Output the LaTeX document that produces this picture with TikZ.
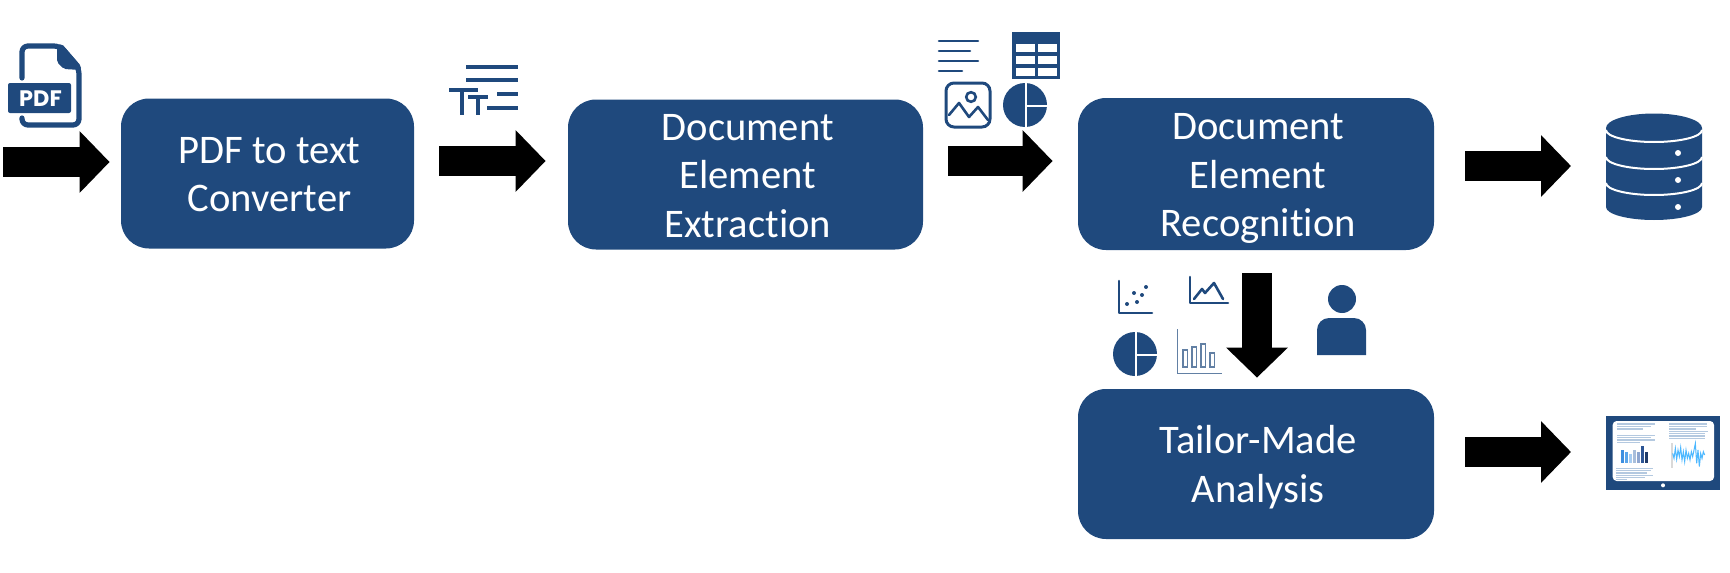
\documentclass[tikz,border=0pt]{standalone}
\usepackage{fontspec}
\setmainfont[Ligatures=NoCommon]{Carlito}
\newfontfamily\iconfont{Poppins}
\usetikzlibrary{arrows.meta}
\definecolor{navy}{HTML}{1F497D}
\definecolor{pale}{HTML}{B4C9E0}

\begin{document}
\begin{tikzpicture}[x=0.5pt,y=-0.5pt,
    stagebox/.style={fill=navy,rounded corners=14pt,text=white,align=flush center,inner sep=0pt,
      text width=140pt,font=\fontsize{20.3}{24.25}\selectfont,minimum height=75pt,
      execute at begin node={\advance\leftskip 2.2pt\relax\rule{0pt}{19pt}},
      execute at end node={\rule[-5pt]{0pt}{5pt}}},
    bigarrow/.style={line width=15pt,-{Triangle[width=30pt,length=15pt]}},
    iconline/.style={navy,line width=1.8pt},
    thinline/.style={navy,line width=1.3pt,line cap=round,line join=round},
    pale line/.style={pale,line width=0.7pt}]
  \useasboundingbox (0,0) rectangle (1730,573);

  \node[stagebox,minimum width=146.5pt] (conv) at (267.5,173.5) {PDF to text\\Converter};
  \node[stagebox,minimum width=177.5pt] (extract) at (745.5,174.5) {Document\\Element\\Extraction};
  \node[stagebox,minimum width=178pt,minimum height=76pt] (recog) at (1256,174) {Document\\Element\\Recognition};
  \node[stagebox,minimum width=178pt] (tailor) at (1256,464) {Tailor-Made\\Analysis};

  \coordinate (pdfin) at (3,162);
  \coordinate (store) at (1571,166);
  \coordinate (screen) at (1571,452);

  % Block arrows
  \draw[bigarrow] (pdfin) -- ([shift={(-11,-11.5)}]conv.west);
  \draw[bigarrow] ([shift={(25,-12.5)}]conv.east) -- ([shift={(-22,-13.5)}]extract.west);
  \draw[bigarrow] ([shift={(25,-13.5)}]extract.east) -- ([shift={(-25,-13)}]recog.west);
  \draw[bigarrow] ([shift={(31,-8)}]recog.east) -- (store);
  \draw[bigarrow] ([shift={(31,-12)}]tailor.east) -- (screen);
  \draw[bigarrow] ([shift={(1,23)}]recog.south) -- ([shift={(1,-11)}]tailor.north);

  % PDF file
  \draw[navy,line width=2.6pt,line cap=round,line join=round,rounded corners=3pt]
    (22,78) -- (22,46) -- (60,46) -- (79,68) -- (79,125) -- (22,125) -- (22,118);
  \fill[navy,rounded corners=1pt] (57,45) -- (62,44) -- (81,66) -- (81,70) -- (64,69) -- (57,62) -- cycle;
  \fill[navy,rounded corners=1pt] (8,83) rectangle (71,113);
  \node[text=white,inner sep=0pt,font=\iconfont\bfseries\fontsize{11.2}{11.2}\selectfont] (pdflabel) at (40.5,99) {PDF};

  % Text lines with letters
  \draw[iconline]
    (466,67) -- (518,67) (466,80) -- (518,80)
    (449,90) -- (478,90) (462,90) -- (462,115)
    (468,97) -- (488,97) (478,97) -- (478,115)
    (497,94) -- (518,94) (487,108) -- (518,108);

  % Paragraph
  \foreach \y/\w in {41/978,51/970,61/978,71/962}
    \draw[thinline] (939,\y) -- (\w,\y);

  % Table
  \fill[navy] (1012,32) rectangle (1060,79);
  \foreach \y in {44,56,68}
    \foreach \x/\w in {1016/1035,1038/1057}
      \fill[white] (\x,\y) rectangle (\w,\y+8);

  % Image
  \draw[navy,line width=1.5pt,rounded corners=4pt] (946,83) rectangle (990,127);
  \draw[navy,line width=1.3pt] (971,97) circle (2.4pt);
  \draw[thinline] (949,115) -- (959,103) -- (969,117) -- (978,107) -- (988,120);

  % Pie charts
  \foreach \cx/\cy in {1025/105,1135/354} {
    \fill[navy] (\cx,\cy) circle (11pt);
    \draw[white,line width=1pt] (\cx+1,\cy-23) -- (\cx+1,\cy+23) (\cx+1,\cy+1) -- (\cx+23,\cy+1);
  }

  % Scatter plot
  \draw[thinline] (1119,281) -- (1119,313) -- (1152,313);
  \foreach \x/\y in {1127/304,1137/302,1134/293,1142/295,1146/287}
    \fill[navy] (\x,\y) circle (1pt);

  % Line chart
  \draw[thinline] (1190,277) -- (1190,303) -- (1228,303);
  \draw[thinline] (1194,299) -- (1202,289) -- (1205,293) -- (1214,283) -- (1223,299);

  % Bar chart
  \draw[navy!70,line width=0.5pt] (1177,329) -- (1177,373) -- (1222,373);
  \foreach \x/\y in {1183/350,1192/347,1201/344,1210/353}
    \draw[navy!70,line width=0.8pt] (\x,\y) rectangle (\x+4.5,367);

  % Person
  \fill[navy] (1342,299) circle (7pt);
  \fill[navy] (1317,355) [rounded corners=6pt] -- (1317,318) -- (1366,318) [sharp corners] -- (1366,355) -- cycle;

  % Database
  \fill[navy] (1606,128) -- (1606,207) arc[start angle=180,end angle=360,x radius=24pt,y radius=6.5pt]
    -- (1702,128) arc[start angle=0,end angle=180,x radius=24pt,y radius=7.25pt] -- cycle;
  \foreach \y in {130,157,183}
    \draw[white,line width=1pt] (1606,\y) arc[start angle=180,end angle=360,x radius=24pt,y radius=6pt];
  \foreach \y in {153,180,207}
    \fill[white] (1678,\y) circle (1.5pt);

  % Dashboard
  \begin{scope}[shift={(1590,400)},x=0.16667pt,y=-0.16667pt]
    \fill[navy] (48,48) rectangle (390,270);
    \fill[white,rounded corners=2pt] (68,63) rectangle (372,243);
    \fill[white] (219,256) circle (1pt);
    \foreach \y/\a/\b in {72/82/195,79/82/183,87/82/160,106/82/195,113/82/183,120/82/195,127/82/150,
        205/78/190,212/78/183,219/78/170,226/78/190,233/78/165,238/78/112,
        72/238/352,79/238/350,87/238/318,94/238/353,101/238/345,108/238/345,115/238/345}
      \draw[pale line] (\a,\y) -- (\b,\y);
    \foreach \x/\y/\c in {93/150/3D8FE0,105/155/5AA5EA,116/163/A8CDF2,128/150/A9BEDB,141/157/8EA6D0,153/137/2C5494,166/157/1F3A68} {
      \definecolor{barfill}{HTML}{\c}
      \fill[barfill] (\x,\y) rectangle (\x+9,188);
    }
    \draw[black!15,line width=0.7pt] (246,130) -- (246,205);
    \draw[blue!40!cyan!70,line width=0.5pt] (248,160) -- (252,175) -- (256,145) -- (260,178) -- (264,150) -- (268,170)
      -- (272,142) -- (276,180) -- (280,155) -- (284,185) -- (288,150) -- (292,175) -- (296,160) -- (300,180)
      -- (304,155) -- (308,170) -- (312,150) -- (316,130) -- (320,190) -- (324,150) -- (328,200) -- (332,160)
      -- (336,175) -- (340,155) -- (344,165);
  \end{scope}
\end{tikzpicture}
\end{document}
